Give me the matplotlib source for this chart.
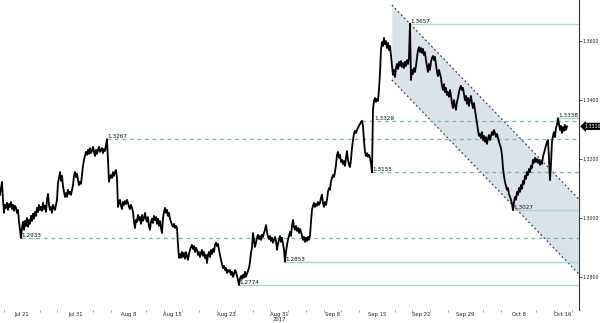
import numpy as np
import matplotlib
matplotlib.use('Agg')
import matplotlib.pyplot as plt
import matplotlib.transforms as mtransforms

# close, in pips (x1e-4), one sample per ~2.7 trading hours
close_pips = [
    13079, 13102, 13123, 13062, 13018, 13045, 13035, 13052, 13028, 13048, 13038, 13055, 13031, 13045, 13025, 13042,
    13035, 13018, 13028, 12988, 12961, 12933, 12967,
    12988, 12961, 12991, 12974, 13001, 12971, 12994, 12981, 13008, 12991, 13015, 12998, 13021, 13008, 13035, 13021,
    13045, 13028, 13038, 13025, 13052, 13031, 13042, 13021, 13062, 13082, 13045, 13028, 13038, 13018, 13045, 13035,
    13028, 13045, 13062, 13119, 13136, 13156, 13126, 13143, 13109, 13089, 13072, 13085, 13072, 13096, 13082, 13089,
    13079, 13096, 13112, 13143, 13156, 13139, 13150, 13129, 13112, 13123, 13116, 13146, 13177, 13197, 13210, 13224,
    13214, 13231, 13217, 13237, 13220, 13227, 13241, 13224, 13210, 13231, 13217, 13231, 13241, 13224, 13231, 13237,
    13220, 13234, 13227, 13247, 13267,
    13197, 13123, 13139, 13146, 13136, 13156, 13143, 13156, 13163, 13136, 13038, 13052, 13062, 13042, 13031, 13055,
    13045, 13058, 13048, 13062, 13052, 13038, 13031, 13045, 13035, 13021, 12988, 12967, 12994, 12988, 13011, 12994,
    13004, 12981, 13011, 12991, 13001, 13018, 12998, 12988, 13004, 12974, 12961, 12988, 12998, 12984, 13008, 12994,
    13004, 12981, 12998, 12974, 12991, 12967, 12950, 13001, 13021, 13035, 13018, 13028, 13008, 13018, 12998, 12988,
    12977, 12971, 12981, 12967, 12974, 12967, 12910,
    12866, 12879, 12866, 12886, 12869, 12883, 12863, 12886, 12873, 12859, 12879, 12893, 12903, 12910, 12896, 12906,
    12886, 12900, 12893, 12876, 12886, 12869, 12883, 12893, 12873, 12886, 12866, 12876, 12849, 12876, 12886, 12869,
    12893, 12879, 12896, 12886, 12910, 12917, 12906, 12913, 12893, 12876, 12859, 12846, 12832, 12839, 12825, 12832,
    12815, 12825, 12819, 12825, 12809, 12819, 12802, 12812, 12825, 12819, 12805, 12792, 12774, 12795,
    12805, 12795, 12809, 12799, 12819, 12802, 12812, 12822, 12832, 12852, 12883, 12900, 12950, 12927, 12903, 12917,
    12934, 12944, 12930, 12940, 12927, 12944, 12937, 12950, 12961, 12977, 12954, 12937, 12930, 12940, 12923, 12934,
    12917, 12927, 12937, 12923, 12893, 12913, 12927, 12940, 12920, 12934, 12913, 12893, 12853,
    12886, 12910, 12927, 12940, 12954, 12940, 12974, 12994, 12971, 12961, 12974, 12957, 12967, 12950, 12964, 12954,
    12940, 12927, 12937, 12920, 12934, 12923, 12937, 12927, 12940, 12988, 13028, 13042, 13052, 13038, 13048, 13042,
    13055, 13045, 13052, 13069, 13079, 13052, 13038, 13055, 13045, 13062, 13089, 13102, 13096, 13123, 13136, 13146,
    13139, 13156, 13180, 13214, 13224, 13204, 13214, 13190, 13197, 13183, 13193, 13177, 13204, 13227, 13197, 13180,
    13173, 13197, 13237, 13264, 13285, 13295, 13288, 13298, 13305,
    13312, 13318, 13325, 13329, 13312, 13264, 13224, 13210, 13220, 13207, 13214, 13204, 13187, 13155, 13366, 13396,
    13406, 13393, 13403, 13396, 13433, 13491, 13568, 13595, 13582, 13609, 13588, 13598, 13575, 13592, 13568, 13582,
    13551, 13514,
    13484, 13501, 13477, 13507, 13521, 13504, 13528, 13514, 13531, 13511, 13524, 13507, 13528, 13514, 13534, 13521,
    13541, 13657, 13467, 13501, 13487, 13507, 13494, 13514,
    13541, 13568, 13578, 13561, 13575, 13558, 13572, 13551, 13561, 13534, 13514, 13494, 13521, 13501, 13528, 13541,
    13548, 13534, 13545, 13518, 13494, 13480, 13501, 13487, 13474, 13447, 13433, 13453, 13426, 13440, 13416, 13426,
    13410, 13433, 13413, 13389, 13372, 13399, 13379, 13366, 13393, 13406, 13426, 13440, 13447, 13433, 13440, 13420,
    13399, 13413, 13386, 13406, 13379, 13399, 13413, 13389, 13372, 13389, 13366, 13345, 13318, 13298, 13278, 13285,
    13271, 13291, 13264, 13278, 13258, 13274, 13251, 13268, 13281, 13264, 13278, 13291, 13281, 13298, 13288, 13274,
    13285, 13271, 13258, 13247, 13237, 13214, 13170, 13143, 13123, 13109, 13096, 13102, 13082, 13072, 13062, 13048,
    13027,
    13055, 13072, 13062, 13089, 13079, 13102, 13089, 13112, 13099, 13126, 13116, 13143, 13133, 13156, 13146, 13166,
    13156, 13177, 13170, 13197, 13187, 13204, 13190, 13200, 13187, 13197, 13180, 13193, 13183, 13207, 13220, 13234,
    13247, 13258, 13264, 13204, 13129, 13180, 13258, 13278, 13291, 13274, 13305, 13315, 13338, 13318, 13298, 13312,
    13288, 13308, 13295, 13315, 13298, 13310,
]
samples_per_day = 8.87
samples_before_start = 22

tick_days = [0, 6, 12, 17, 23, 29, 35, 40, 45, 50, 56, 61]
tick_labels = ['Jul 21', 'Jul 31', 'Aug 8', 'Aug 15', 'Aug 23', 'Aug 31\n2017',
               'Sep 8', 'Sep 15', 'Sep 22', 'Sep 29', 'Oct 8', 'Oct 16']
y_ticks = [1.28, 1.30, 1.32, 1.34, 1.36]

dashed_levels = [1.3267, 1.2933, 1.3329, 1.3155]
solid_levels = [1.3657, 1.3027, 1.2853, 1.2774, 1.3338]
label_shift = {1.3329: 12}

channel_days = [41.7, 62.8]
channel_upper = [1.3720, 1.3064]
channel_lower = [1.3467, 1.2811]
last_price = 1.3310

price = np.array(close_pips) / 10000.0
t = (np.arange(len(price)) - samples_before_start) / samples_per_day

fig = plt.figure(figsize=(6.0, 3.23), dpi=100)
ax = fig.add_axes([0.0, 1 - 310 / 323, 579 / 600, 310 / 323])
xmin, xmax = -samples_before_start / samples_per_day, 62.8
ax.set_xlim(xmin, xmax)
ax.set_ylim(1.2690, 1.3737)

# channel
ax.fill_between(channel_days, channel_lower, channel_upper, color='#d8e3ea', lw=0, zorder=1)
for edge in (channel_upper, channel_lower):
    ax.plot(channel_days, edge, color='#444444', lw=0.9, ls=(0, (1.5, 2)), zorder=2)

fnt = dict(family='DejaVu Sans', stretch='condensed')


def level_line(lvl, dashed):
    i = close_pips.index(int(round(lvl * 10000)))
    if dashed:
        ax.plot([t[i], xmax], [lvl, lvl], color='#6fb8a2', lw=0.9, ls=(0, (3, 3)), zorder=2)
    else:
        ax.plot([t[i], xmax], [lvl, lvl], color='#aad8cb', lw=1.0, zorder=2)
    j = i + label_shift.get(lvl, 0)
    ax.text(t[j] + 0.08, lvl, '%.4f' % lvl, fontsize=4.6, color='#111111',
            ha='left', va='bottom', zorder=4, **fnt)


for lvl in dashed_levels:
    level_line(lvl, True)
for lvl in solid_levels:
    level_line(lvl, False)

ax.plot(t, price, color='black', lw=1.3, zorder=3)

# axes styling
for s in ['left', 'top', 'bottom']:
    ax.spines[s].set_visible(False)
ax.spines['right'].set_color('#333333')
ax.spines['right'].set_linewidth(0.8)
ax.yaxis.tick_right()
ax.set_yticks(y_ticks)
ax.set_yticklabels(['%.4f' % v for v in y_ticks], fontsize=3.8, **fnt)
ax.tick_params(axis='y', length=2, width=0.6, pad=0.8, colors='#333333', labelcolor='#222222')
ax.set_xticks(tick_days)
ax.set_xticklabels(tick_labels, fontsize=4.2, linespacing=0.9, **fnt)
ax.set_xticks(np.arange(-2, 63, 2), minor=True)
ax.tick_params(axis='x', which='major', length=0, pad=1.5, labelcolor='#222222')
ax.tick_params(axis='x', which='minor', length=1.5, width=0.5, colors='#777777')

# last price tag
trans = mtransforms.blended_transform_factory(ax.transAxes, ax.transData)
ax.text(1.009, last_price, '%.4f' % last_price, transform=trans, fontsize=3.8,
        color='white', ha='left', va='center', zorder=5,
        bbox=dict(boxstyle='larrow,pad=0.15', fc='black', ec='black', lw=0.5), clip_on=False, **fnt)

fig.savefig('out.png', dpi=100)
